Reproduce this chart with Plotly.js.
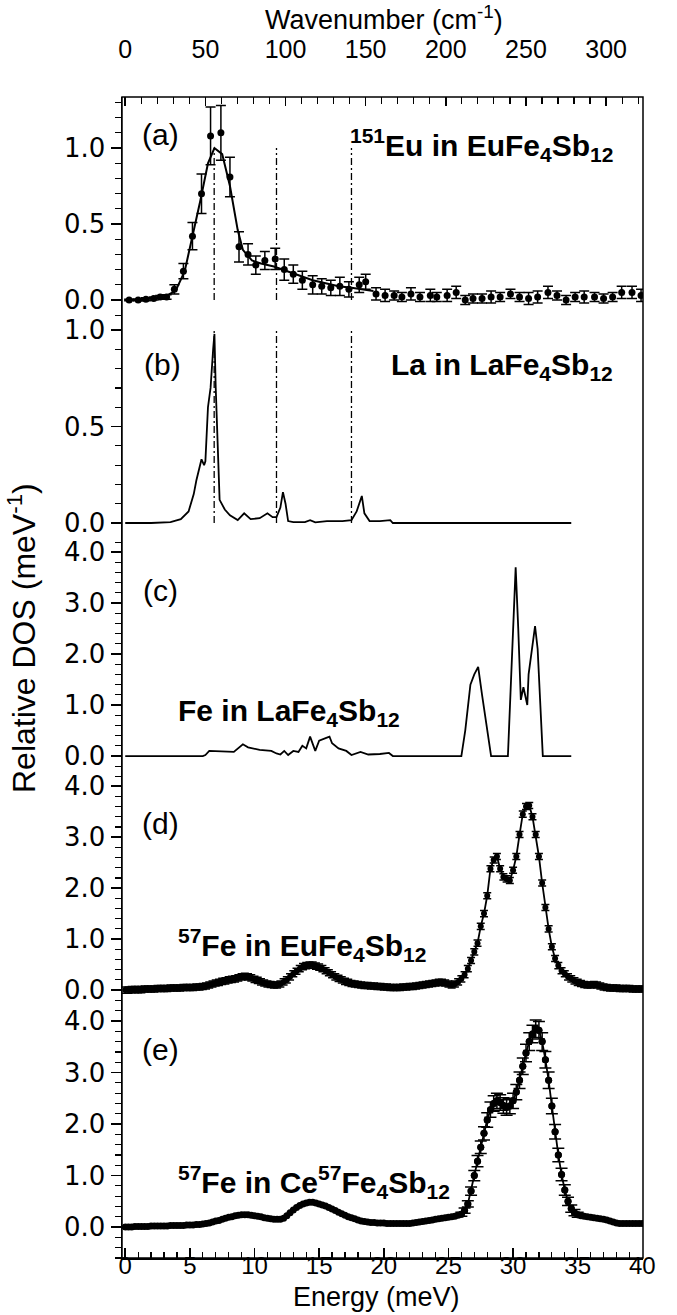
<!DOCTYPE html>
<html><head><meta charset="utf-8">
<script src="https://cdn.plot.ly/plotly-3.0.1.min.js"></script>
<style>html,body{margin:0;padding:0;background:#fff;} #chart{width:677px;height:1315px;}</style>
</head><body><div id="chart"></div>
<script>
// Panel (a): 151Eu data points, errors, and fit line (energy in meV)
const euE = [0.3,1.0,1.6,2.2,2.7,3.2,3.8,4.5,5.2,5.9,6.6,7.4,8.1,8.8,9.5,10.1,10.8,11.6,12.3,13.0,13.7,14.5,15.2,15.9,16.6,17.3,18.1,18.6,19.4,20.1,20.8,21.4,22.1,22.8,23.6,24.1,24.9,25.6,26.3,26.9,27.6,28.3,29.0,29.8,30.5,31.2,31.9,32.7,33.4,34.1,34.8,35.5,36.3,37.0,37.7,38.4,39.2,39.9];
const euV = [0.0,0.0,0.005,0.01,0.02,0.02,0.07,0.19,0.42,0.70,1.08,1.10,0.81,0.35,0.30,0.23,0.26,0.27,0.20,0.17,0.13,0.10,0.09,0.08,0.09,0.07,0.10,0.12,0.04,0.03,0.03,0.02,0.04,0.02,0.03,0.02,0.03,0.05,0.00,0.01,0.01,0.02,0.02,0.04,0.02,0.01,0.02,0.05,0.03,0.00,0.02,0.02,0.02,0.01,0.02,0.05,0.05,0.03];
const euErr = [0.005,0.005,0.01,0.01,0.01,0.015,0.03,0.05,0.09,0.13,0.19,0.18,0.13,0.10,0.07,0.06,0.06,0.07,0.07,0.06,0.06,0.06,0.05,0.05,0.06,0.05,0.05,0.05,0.04,0.04,0.03,0.03,0.04,0.03,0.04,0.03,0.04,0.04,0.03,0.03,0.03,0.04,0.03,0.03,0.03,0.04,0.04,0.04,0.03,0.03,0.03,0.04,0.03,0.03,0.03,0.04,0.04,0.04];
const fitE = [0,2,3,3.9,4.6,5.2,5.8,6.4,6.9,7.5,8.1,8.7,9.1,9.8,10.5,11.5,12.5,13.5,14.5,15.5,16.5,17.5,18.5,19.2];
const fitV = [0,0.01,0.02,0.06,0.19,0.41,0.65,0.9,1.0,0.96,0.75,0.46,0.33,0.26,0.24,0.22,0.19,0.16,0.13,0.11,0.09,0.08,0.07,0.06];

// Panel (b): La partial DOS in LaFe4Sb12
const laE = [0,2.0,3.5,4.3,4.9,5.3,5.5,5.8,5.9,6.1,6.2,6.4,6.6,6.8,6.9,7.0,7.2,7.3,7.7,8.1,8.7,9.2,9.7,10.4,11.0,11.4,11.7,12.0,12.2,12.4,12.6,13.0,13.9,14.3,14.7,15.6,16.8,17.5,17.9,18.3,18.5,18.9,19.7,20.5,20.7,27.3,27.6,27.9,34.5];
const laV = [0,0,0.005,0.02,0.06,0.15,0.22,0.3,0.33,0.30,0.32,0.6,0.7,0.9,0.98,0.7,0.3,0.12,0.07,0.04,0.015,0.05,0.02,0.025,0.05,0.03,0.03,0.08,0.16,0.1,0.01,0.005,0.005,0.015,0.003,0.01,0.01,0.015,0.06,0.14,0.05,0.01,0.01,0.015,0.0,0.0,0.003,0.0,0.0];

// Panel (c): Fe partial DOS in LaFe4Sb12
const feE = [0,6.0,6.2,6.5,8.4,9.1,9.5,10.4,11.3,11.7,12.0,12.3,12.6,13.0,13.4,13.7,14.0,14.3,14.7,15.0,15.5,15.8,16.0,16.5,17.1,17.5,18.2,18.8,19.7,20.4,20.7,26.0,26.3,26.7,27.0,27.3,27.6,27.9,28.3,29.6,29.9,30.2,30.4,30.6,30.8,31.1,31.2,31.7,31.9,32.3,34.5];
const feV = [0,0.0,0.02,0.1,0.08,0.23,0.17,0.12,0.1,0.05,0.03,0.1,0.02,0.1,0.08,0.2,0.15,0.38,0.1,0.3,0.35,0.38,0.25,0.15,0.1,0.02,0.08,0.03,0.04,0.06,0.0,0.0,0.5,1.4,1.6,1.75,1.2,0.7,0.0,0.0,2.0,3.7,2.5,1.1,1.35,1.0,1.6,2.55,2.1,0.0,0.0];

// Panels (d) and (e): 57Fe DOS sampled every 0.25 meV from 0 to 40 meV
const stepE = 0.25;
const dV = [0.00,0.00,0.01,0.01,0.01,0.01,0.02,0.02,0.02,0.02,0.03,0.03,0.03,0.03,0.04,0.04,0.04,0.04,0.05,0.05,
0.05,0.05,0.06,0.06,0.07,0.08,0.10,0.12,0.14,0.15,0.17,0.18,0.20,0.21,0.22,0.24,0.26,0.27,0.26,0.24,
0.21,0.19,0.16,0.14,0.12,0.11,0.10,0.10,0.12,0.16,0.20,0.26,0.32,0.37,0.42,0.46,0.48,0.49,0.49,0.47,
0.45,0.42,0.38,0.34,0.30,0.26,0.23,0.20,0.17,0.15,0.13,0.12,0.11,0.10,0.09,0.09,0.08,0.08,0.07,0.07,
0.06,0.06,0.05,0.05,0.05,0.05,0.06,0.06,0.07,0.07,0.08,0.09,0.10,0.11,0.12,0.13,0.14,0.15,0.15,0.14,
0.12,0.10,0.12,0.16,0.22,0.30,0.42,0.58,0.75,0.92,1.25,1.50,1.85,2.38,2.55,2.62,2.38,2.22,2.18,2.15,
2.35,2.62,3.05,3.45,3.60,3.62,3.40,3.05,2.62,2.10,1.62,1.20,0.85,0.62,0.48,0.38,0.32,0.26,0.22,0.18,
0.15,0.13,0.11,0.10,0.10,0.11,0.10,0.08,0.06,0.05,0.04,0.04,0.04,0.03,0.03,0.03,0.03,0.02,0.02,0.02,0.02];
const eV = [0.00,0.00,0.00,0.01,0.01,0.01,0.01,0.01,0.02,0.02,0.02,0.02,0.02,0.02,0.03,0.03,0.03,0.03,0.03,0.04,
0.04,0.04,0.05,0.05,0.06,0.07,0.08,0.10,0.12,0.13,0.15,0.17,0.19,0.20,0.22,0.23,0.24,0.24,0.24,0.23,
0.22,0.21,0.20,0.18,0.17,0.16,0.15,0.15,0.15,0.17,0.22,0.28,0.33,0.38,0.42,0.45,0.47,0.48,0.48,0.47,
0.45,0.43,0.41,0.38,0.35,0.32,0.29,0.26,0.23,0.20,0.18,0.16,0.14,0.12,0.11,0.10,0.09,0.09,0.08,0.08,
0.08,0.07,0.07,0.07,0.07,0.07,0.07,0.07,0.07,0.08,0.09,0.10,0.11,0.12,0.13,0.14,0.15,0.16,0.17,0.18,
0.19,0.20,0.21,0.23,0.25,0.32,0.45,0.70,1.00,1.28,1.55,1.82,2.08,2.28,2.40,2.45,2.42,2.36,2.32,2.35,
2.45,2.62,2.85,3.12,3.38,3.60,3.75,3.85,3.82,3.60,3.25,2.85,2.35,1.85,1.40,1.02,0.72,0.50,0.36,0.28,
0.24,0.22,0.21,0.20,0.19,0.18,0.17,0.16,0.15,0.14,0.12,0.10,0.08,0.07,0.07,0.07,0.07,0.07,0.07,0.07,0.07];
const dErr = 0.06;
// (e) error bars in the 26–35 meV peak region
const ePeakStartE = 26.0;
const errE = [0.04,0.05,0.06,0.08,0.10,0.11,0.12,0.13,0.14,0.15,0.15,0.15,0.15,0.15,0.15,0.15,0.15,0.15,0.16,0.16,0.17,0.17,0.17,0.17,0.17,0.17,0.16,0.16,0.15,0.14,0.13,0.12,0.10,0.08,0.07,0.06,0.05];

// Mode energies (dash-dot markers in a and b)
const modeE = [6.88, 11.7, 17.5];
const cmPerMeV = 8.0655;

const dE = dV.map((v, i) => i * stepE);
const eE = eV.map((v, i) => i * stepE);
const i0 = Math.round(ePeakStartE / stepE);
const ePkE = eE.slice(i0, i0 + errE.length);
const ePkV = eV.slice(i0, i0 + errE.length);

const xRange = [-0.25, 40.05];
const FONT = 'Liberation Sans, Arial, Helvetica, sans-serif';
const YFONT = 'DejaVu Sans, Liberation Sans, sans-serif';
const K = '#000';

const traces = [
  {x: fitE, y: fitV, xaxis:'x', yaxis:'y', mode:'lines', line:{color:K, width:2}},
  {x: euE, y: euV, xaxis:'x', yaxis:'y', mode:'markers', marker:{color:K, size:7, symbol:'circle'},
   error_y:{type:'data', array:euErr, visible:true, color:K, thickness:1.5, width:5}},
  {x: laE, y: laV, xaxis:'x', yaxis:'y2', mode:'lines', line:{color:K, width:1.8}},
  {x: feE, y: feV, xaxis:'x', yaxis:'y3', mode:'lines', line:{color:K, width:1.8}},
  {x: dE, y: dV, xaxis:'x', yaxis:'y4', mode:'lines+markers', line:{color:K, width:1.8}, marker:{color:K, size:6},
   error_y:{type:'constant', value:dErr, visible:true, color:K, thickness:1.5, width:4}},
  {x: eE, y: eV, xaxis:'x', yaxis:'y5', mode:'lines+markers', line:{color:K, width:1.8}, marker:{color:K, size:7}},
  {x: ePkE, y: ePkV, xaxis:'x', yaxis:'y5', mode:'markers', marker:{color:K, size:7},
   error_y:{type:'data', array:errE, visible:true, color:K, thickness:1.5, width:6}},
  {x: [xRange[0]*cmPerMeV, xRange[1]*cmPerMeV], y:[0,0], xaxis:'x2', yaxis:'y', mode:'markers', marker:{opacity:0}}
];

function yax(domain, range, dtick, mdt) {
  return {domain, range, dtick, tick0:0, tickformat:'.1f', ticks:'outside', ticklen:10, tickwidth:1.5, tickcolor:K,
    minor:{dtick:mdt, tick0:0, ticks:'outside', ticklen:6, tickwidth:1.2, tickcolor:K},
    showline:true, linecolor:K, linewidth:1.5, zeroline:false, showgrid:false, anchor:'x',
    tickfont:{size:26, family:YFONT, color:K}, fixedrange:true};
}

const shapes = [{type:'rect', xref:'paper', yref:'paper', x0:0, x1:1, y0:0, y1:1, line:{color:K, width:1.5}, layer:'above'}];
['y','y2'].forEach(yr => modeE.forEach(E => shapes.push({type:'line', xref:'x', yref:yr, x0:E, x1:E, y0:0, y1:1,
  line:{color:K, width:1.3, dash:'7px,3px,2px,3px'}})));

const letF = {size:30, family:FONT, color:K};
const labF = {size:30, family:FONT, color:K};
const ann = (o) => Object.assign({showarrow:false, xanchor:'center', yanchor:'middle'}, o);
const annotations = [
  ann({text:'(a)', xref:'x', yref:'y', x:2.7, y:1.086, font:letF}),
  ann({text:'(b)', xref:'x', yref:'y2', x:2.9, y:0.82, font:letF}),
  ann({text:'(c)', xref:'x', yref:'y3', x:2.7, y:3.25, font:letF}),
  ann({text:'(d)', xref:'x', yref:'y4', x:2.7, y:3.27, font:letF}),
  ann({text:'(e)', xref:'x', yref:'y5', x:2.7, y:3.44, font:letF}),
  ann({text:'<b><sup>151</sup>Eu in EuFe<sub>4</sub>Sb<sub>12</sub></b>', xref:'x', yref:'y', x:37.9, y:1.02, xanchor:'right', font:labF}),
  ann({text:'<b>La in LaFe<sub>4</sub>Sb<sub>12</sub></b>', xref:'x', yref:'y2', x:37.9, y:0.81, xanchor:'right', font:labF}),
  ann({text:'<b>Fe in LaFe<sub>4</sub>Sb<sub>12</sub></b>', xref:'x', yref:'y3', x:3.95, y:0.86, xanchor:'left', font:labF}),
  ann({text:'<b><sup>57</sup>Fe in EuFe<sub>4</sub>Sb<sub>12</sub></b>', xref:'x', yref:'y4', x:3.9, y:0.88, xanchor:'left', font:labF}),
  ann({text:'<b><sup>57</sup>Fe in Ce<sup>57</sup>Fe<sub>4</sub>Sb<sub>12</sub></b>', xref:'x', yref:'y5', x:3.9, y:0.87, xanchor:'left', font:labF}),
  ann({text:'Relative DOS (meV<sup>-1</sup>)', xref:'paper', yref:'paper', x:-0.192, y:0.534, textangle:-90, font:{size:32, family:FONT, color:K}}),
  ann({text:'Energy (meV)', xref:'paper', yref:'paper', x:0.489, y:-0.0336, font:{size:27, family:FONT, color:K}}),
  ann({text:'Wavenumber (cm<sup>-1</sup>)', xref:'paper', yref:'paper', x:0.503, y:1.0680, font:{size:27, family:FONT, color:K}})
];

const layout = {
  width:677, height:1315, margin:{l:122, r:34, t:97, b:57}, paper_bgcolor:'#fff', plot_bgcolor:'#fff',
  showlegend:false, font:{family:FONT, color:K},
  xaxis:{range:xRange, anchor:'y5', domain:[0,1], dtick:5, tick0:0, ticks:'inside', ticklen:10, tickwidth:1.5, tickcolor:K,
    minor:{dtick:1, tick0:0, ticks:'inside', ticklen:6, tickwidth:1.2, tickcolor:K},
    showline:true, linecolor:K, linewidth:1.5, zeroline:false, showgrid:false, ticklabelstandoff:-14,
    tickfont:{size:24, family:FONT, color:K}, fixedrange:true},
  xaxis2:{range:[xRange[0]*cmPerMeV, xRange[1]*cmPerMeV], overlaying:'x', side:'top', anchor:'y', dtick:50, tick0:0,
    ticks:'inside', ticklen:9, tickwidth:1.5, tickcolor:K,
    minor:{dtick:10, tick0:0, ticks:'inside', ticklen:7, tickwidth:1.2, tickcolor:K},
    showline:false, zeroline:false, showgrid:false, ticklabelstandoff:33,
    tickfont:{size:25, family:FONT, color:K}, fixedrange:true},
  yaxis: yax([0.8114, 1], [-0.105, 1.336], 0.5, 0.1),
  yaxis2: yax([0.6133, 0.8114], [-0.119, 1.073], 0.5, 0.1),
  yaxis3: yax([0.4126, 0.6133], [-0.45, 4.12], 1, 0.2),
  yaxis4: yax([0.2110, 0.4126], [-0.45, 4.14], 1, 0.2),
  yaxis5: yax([0, 0.2110], [-0.60, 4.155], 1, 0.2),
  shapes, annotations
};

Plotly.newPlot('chart', traces, layout, {staticPlot:true, displayModeBar:false});
</script></body></html>
